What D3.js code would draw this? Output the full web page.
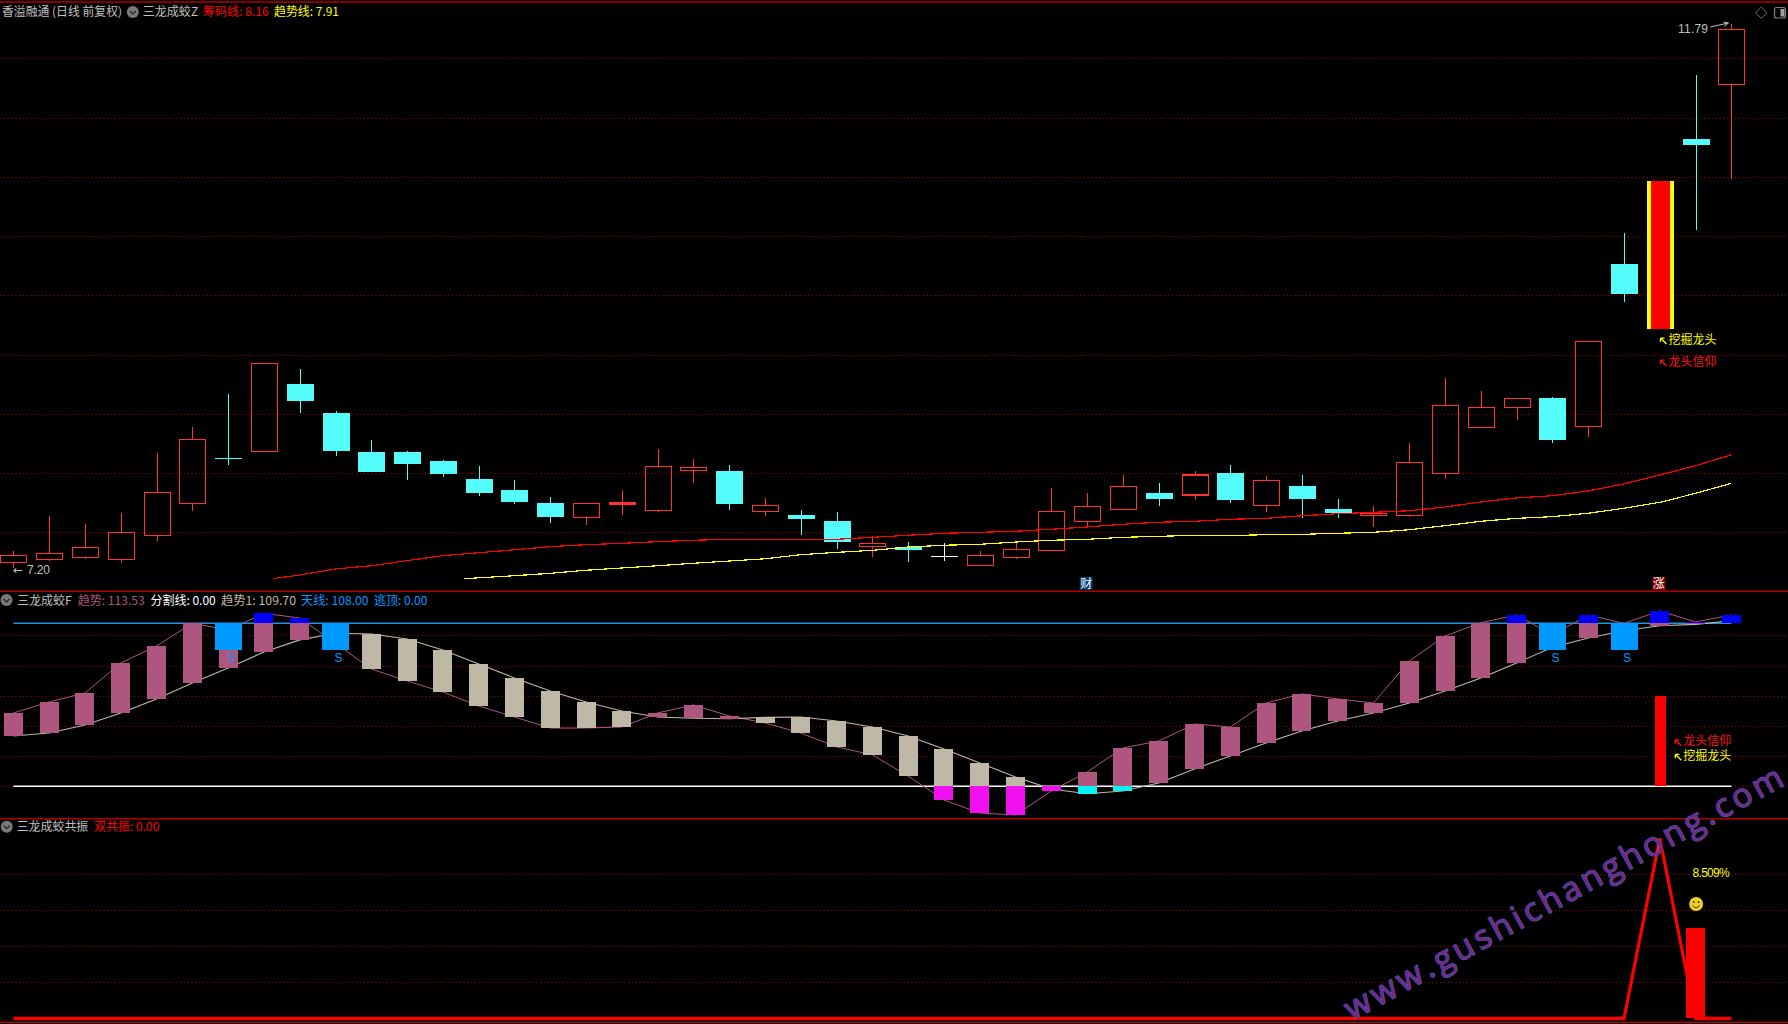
<!DOCTYPE html>
<html><head><meta charset="utf-8">
<style>html,body{margin:0;padding:0;background:#000;overflow:hidden}svg{display:block}text{font-family:"Noto Sans CJK SC","Noto Sans",sans-serif}</style>
<script src="https://cdnjs.cloudflare.com/ajax/libs/d3/7.8.5/d3.min.js"></script>
</head><body><svg id="c" width="1788" height="1024"></svg>
<script>
// main panel: one entry per trading day
const opens=[7.245,7.270,7.287,7.270,7.476,7.743,8.13,8.181,8.752,8.508,8.179,8.179,8.103,7.951,7.858,7.748,7.624,7.74,7.683,8.021,8.018,7.675,7.647,7.597,7.380,7.377,7.301,7.219,7.287,7.346,7.591,7.692,7.833,7.816,8.002,7.726,7.892,7.698,7.641,7.641,7.996,8.384,8.553,8.634,8.392,9.765,9.217,10.820,11.278];
const closes=[7.307,7.324,7.375,7.501,7.839,8.286,8.12,8.927,8.609,8.187,8.010,8.077,7.993,7.833,7.757,7.630,7.746,7.75,8.058,8.050,7.740,7.729,7.613,7.419,7.408,7.352,7.301,7.307,7.358,7.678,7.721,7.889,7.782,7.985,7.774,7.940,7.782,7.664,7.662,8.092,8.573,8.556,8.632,8.280,9.113,9.512,10.465,10.769,11.745];
const highs=[7.343,7.639,7.571,7.664,8.170,8.390,8.668,8.927,8.879,8.525,8.280,8.187,8.111,8.061,7.942,7.799,7.746,7.858,8.204,8.120,8.069,7.791,7.689,7.672,7.470,7.419,7.411,7.343,7.428,7.875,7.833,7.985,7.917,8.018,8.069,7.976,7.985,7.782,7.723,8.255,8.803,8.693,8.632,8.643,9.113,10.027,10.465,11.360,11.79];
const lows=[7.198,7.259,7.276,7.242,7.428,7.681,8.069,8.181,8.508,8.145,8.010,7.942,7.968,7.807,7.740,7.580,7.563,7.647,7.675,7.917,7.689,7.639,7.478,7.360,7.293,7.251,7.259,7.219,7.276,7.346,7.546,7.692,7.723,7.774,7.748,7.672,7.622,7.622,7.546,7.630,7.951,8.384,8.449,8.255,8.305,9.444,9.217,10.052,10.482];
const chipDays=[7.25,8,9,10,11,12,13,14,15,16,17,18,19,20,21,22,23,24,25,26,27,28,29,30,31,32,33,34,35,36,37,38,39,40,41,42,43,44,45,46,47,48];
const chipLine=[7.110,7.141,7.192,7.219,7.262,7.304,7.329,7.354,7.380,7.397,7.408,7.422,7.434,7.442,7.442,7.442,7.442,7.459,7.476,7.493,7.501,7.510,7.527,7.546,7.569,7.586,7.594,7.611,7.619,7.641,7.658,7.670,7.683,7.715,7.757,7.791,7.810,7.850,7.909,7.985,8.063,8.155];
const trendDays=[12.6,14,15,16,17,18,19,20,21,22,23,24,25,26,27,28,29,30,31,32,33,34,35,36,37,38,39,40,41,42,43,44,45,46,47,48];
const trendLine=[7.110,7.135,7.155,7.181,7.200,7.219,7.240,7.259,7.278,7.312,7.332,7.349,7.377,7.392,7.400,7.419,7.434,7.442,7.459,7.467,7.476,7.474,7.481,7.484,7.493,7.501,7.523,7.557,7.594,7.619,7.633,7.662,7.704,7.754,7.830,7.915];
const mainGrid=[7.5,8,8.5,9,9.5,10,10.5,11,11.5];
const dragonDay=46;
// middle panel
const trend=[48.6,55.9,61.8,81.7,93.0,108,103.6,114.6,111.5,94.7,77.7,69.8,62.5,53.2,45.9,38.6,38.6,39.3,48.6,53.9,46.6,42.0,35.3,26.1,20.8,6.8,-9.1,-17.7,-19.0,-3.1,9.5,25.4,30.0,41.3,39.3,55.2,61.2,57.9,55.2,83.0,99.6,108.4,113.5,100.3,113.5,108,116.2,108.9,113.53];
const trend1=[33.3,35.3,40.6,48.6,57.9,68.5,78.4,89.0,97.0,101.4,100.9,97.6,90.3,81.1,71.8,63.2,55.9,49.9,45.9,45.1,44.8,45.7,45.9,43.3,39.3,33.3,24.7,15.5,6.2,-1.8,-4.9,-3.1,2.2,11.5,20.1,28.7,36.7,43.3,48.6,55.2,63.2,71.8,81.7,92.1,98.3,103.1,106.4,107.3,109.70];
const skyLine=108, skyFloor=90;
const escapeDays=[6,9,43,45];
const midGrid=[100,80,60,40,20,0];
const beliefValue=60;
// bottom panel
const resonance=[0,0,0,0,0,0,0,0,0,0,0,0,0,0,0,0,0,0,0,0,0,0,0,0,0,0,0,0,0,0,0,0,0,0,0,0,0,0,0,0,0,0,0,0,0,0,100,0,0];
const lowGrid=[80,60,40,20];
const resonanceBarDay=47, resonanceBar=50;
// header labels
const headerMain=[["香溢融通 (日线 前复权)",2,120,"#c0c0c0"],["三龙成蛟Z",142.7,55.5,"#c0c0c0"],["筹码线: 8.16",202.8,66,"#ff0000"],["趋势线: 7.91",274,65,"#ffff00"]];
const headerMid=[["三龙成蛟F",17.2,54.4,"#c0c0c0"],["趋势: 113.53",77.7,67,"#ae5580"],["分割线: 0.00",150.4,65.4,"#ffffff"],["趋势1: 109.70",221,75,"#c0b8a6"],["天线: 108.00",301,67.5,"#0099ff"],["逃顶: 0.00",373.9,53.6,"#0099ff"]];
const headerLow=[["三龙成蛟共振",16.7,71.6,"#c0c0c0"],["双共振: 0.00",94,65.3,"#ff0000"]];

const RED="#ff3232",CYAN="#54fcfc",PINK="#ae5580",BEIGE="#c0b8a6",BLUE="#0000ff",SKY="#0099ff",MAG="#f010f0",AQUA="#00f5f5";
const svg=d3.select("#c");
const x=d3.scaleLinear().domain([0,48]).range([13.4,1731.4]);
const y=d3.scaleLinear().domain([7.2,11.79]).range([568,24]);
const ym=d3.scaleLinear().domain([0,108]).range([786.3,623.3]);
const yl=d3.scaleLinear().domain([0,100]).range([1018.3,838.3]);
const days=d3.range(opens.length);
const cx=i=>Math.round(x(i))+.5;
const BW=26.4,SW=19;

function grid(vals,sc){svg.append("g").selectAll("line").data(vals).join("line")
 .attr("x1",0).attr("x2",1786).attr("y1",d=>Math.round(sc(d))+.5).attr("y2",d=>Math.round(sc(d))+.5)
 .attr("stroke","#b40000").attr("stroke-dasharray","1 2.83");}
grid(mainGrid,y);grid(midGrid,ym);grid(lowGrid,yl);

// frame
svg.append("g").selectAll("line").data([2,591.3,818.7,1022.3]).join("line")
 .attr("x1",0).attr("x2",1788).attr("y1",d=>d).attr("y2",d=>d).attr("stroke","#b00000").attr("stroke-width",1.4);

// candles
const g=svg.append("g").attr("shape-rendering","crispEdges");
const col=i=>closes[i]>opens[i]?RED:closes[i]<opens[i]?CYAN:"#ffffff";
const candles=days.filter(i=>i!==dragonDay);
g.selectAll(".wu").data(candles).join("line").attr("x1",cx).attr("x2",cx)
 .attr("y1",i=>y(highs[i])).attr("y2",i=>y(Math.max(opens[i],closes[i])))
 .attr("stroke",col).attr("stroke-width",i=>closes[i]>opens[i]?1.3:1);
g.selectAll(".wd").data(candles).join("line").attr("x1",cx).attr("x2",cx)
 .attr("y1",i=>y(Math.min(opens[i],closes[i]))).attr("y2",i=>y(lows[i]))
 .attr("stroke",col).attr("stroke-width",i=>closes[i]>opens[i]?1.3:1);
g.selectAll(".b").data(candles).join("rect")
 .attr("x",i=>cx(i)-BW/2).attr("width",BW)
 .attr("y",i=>y(Math.max(opens[i],closes[i]))).attr("height",i=>Math.max(1,Math.abs(y(opens[i])-y(closes[i]))))
 .attr("fill",i=>closes[i]<opens[i]?CYAN:closes[i]===opens[i]?"#fff":"none")
 .attr("stroke",i=>closes[i]>opens[i]?RED:"none").attr("stroke-width",1.3);
// dragon day bar
g.append("rect").attr("x",cx(dragonDay)-13.5).attr("width",27).attr("y",y(closes[dragonDay])).attr("height",y(opens[dragonDay])-y(closes[dragonDay])).attr("fill","#ffff00");
g.append("rect").attr("x",cx(dragonDay)-9.4).attr("width",18.8).attr("y",y(closes[dragonDay])).attr("height",y(opens[dragonDay])-y(closes[dragonDay])).attr("fill","#ff0000");

// moving lines
const mkLine=(xs,ys,stroke,w)=>svg.append("path").attr("fill","none").attr("stroke",stroke).attr("stroke-width",w).attr("shape-rendering","crispEdges")
 .attr("d",d3.line().x((d,i)=>x(xs[i])).y(d=>y(d))(ys));
mkLine(trendDays,trendLine,"#ffff00",1.2);
mkLine(chipDays,chipLine,"#ff0000",1.2);

// middle panel
const mg=svg.append("g");
mg.append("line").attr("x1",x(0)).attr("x2",x(48)).attr("y1",ym(0)).attr("y2",ym(0)).attr("stroke","#fff").attr("stroke-width",1.5);
mg.append("line").attr("x1",x(0)).attr("x2",x(48)).attr("y1",ym(skyLine)).attr("y2",ym(skyLine)).attr("stroke","#2094e0").attr("stroke-width",1.5);
mg.append("path").attr("fill","none").attr("stroke",PINK).attr("stroke-width",1).attr("d",d3.line().x((d,i)=>x(i)).y(d=>ym(d))(trend));
mg.append("path").attr("fill","none").attr("stroke",BEIGE).attr("stroke-width",1.1).attr("d",d3.line().x((d,i)=>x(i)).y(d=>ym(d))(trend1));
const bars=mg.append("g").attr("shape-rendering","crispEdges");
const vbar=(sel,sc,f0,f1,w,fill)=>sel.attr("x",i=>x(i)-w/2).attr("width",w).attr("y",i=>sc(Math.max(f0(i),f1(i)))).attr("height",i=>Math.abs(sc(f0(i))-sc(f1(i)))).attr("fill",fill);
vbar(bars.selectAll(".v").data(days).join("rect"),ym,i=>trend[i],i=>trend1[i],SW,i=>trend[i]>=trend1[i]?PINK:BEIGE);
vbar(bars.selectAll(".t").data(days.filter(i=>trend[i]>skyLine)).join("rect"),ym,i=>trend[i],()=>skyLine,SW,BLUE);
vbar(bars.selectAll(".m").data(days.filter(i=>trend[i]<0&&trend[i]<trend1[i])).join("rect"),ym,i=>trend[i],()=>0,SW,MAG);
vbar(bars.selectAll(".a").data(days.filter(i=>trend1[i]<0&&trend1[i]<trend[i])).join("rect"),ym,i=>trend1[i],()=>0,SW,AQUA);
vbar(bars.selectAll(".s").data(escapeDays).join("rect"),ym,()=>skyLine,()=>skyFloor,27,SKY);
vbar(bars.selectAll(".r").data([dragonDay]).join("rect").attr("transform","translate(0.7,0)"),ym,()=>beliefValue,()=>0,11.2,"#ff0000");
mg.selectAll(".sl").data(escapeDays).join("text").text("S").attr("x",i=>x(i)+3).attr("y",ym(skyFloor)+11.5).attr("text-anchor","middle")
 .attr("font-size",12).attr("fill",SKY).style("font-family","'Liberation Sans'");

// bottom panel
svg.append("path").attr("fill","none").attr("stroke","#ff0000").attr("stroke-width",3.2).attr("stroke-linejoin","miter")
 .attr("d",d3.line().x((d,i)=>x(i)).y(d=>yl(d))(resonance));
vbar(svg.append("g").attr("shape-rendering","crispEdges").selectAll("rect").data([resonanceBarDay]).join("rect"),yl,()=>resonanceBar,()=>0,19,"#ff0000");

// watermark
svg.append("text").text("www.gushichanghong.com").attr("transform","translate(1352,1021) rotate(-28.6)")
 .attr("textLength",494).attr("font-size",33)
 .attr("fill","#76268c").attr("stroke","#4560b0").attr("stroke-width",1.2).attr("paint-order","stroke")
 .style("font-family","'Open Sans'");

// headers
function hdr(list,base){svg.append("g").selectAll("text").data(list).join("text").text(d=>d[0]).attr("x",d=>d[1]).attr("y",base)
 .attr("textLength",d=>d[2]).attr("lengthAdjust","spacingAndGlyphs").attr("font-size",12).attr("fill",d=>d[3]);}
hdr(headerMain,16);hdr(headerMid,604.5);hdr(headerLow,831);
function icon(cxp,cyp){svg.append("circle").attr("cx",cxp).attr("cy",cyp).attr("r",6).attr("fill","#7a7a7a");
 svg.append("path").attr("d",`M${cxp-3},${cyp-1}L${cxp},${cyp+2}L${cxp+3},${cyp-1}`).attr("fill","none").attr("stroke","#222").attr("stroke-width",1.2);}
icon(132.8,12);icon(6.5,600);icon(6.7,826.7);

// annotations
const tx=(s,px,py,fill,size,anchor)=>svg.append("text").text(s).attr("x",px).attr("y",py).attr("fill",fill).attr("font-size",size||12).attr("text-anchor",anchor||"start");
function callout(s,px,py,fill){
 svg.append("path").attr("d",`M${px+6},${py+5}L${px},${py-1}M${px},${py-1}l0,4M${px},${py-1}l4,0`).attr("stroke",fill).attr("fill","none").attr("stroke-width",1.3);
 tx(s,px+8,py+4.5,fill,12).attr("textLength",48);
}
callout("挖掘龙头",x(dragonDay)+0.7,y(closes[dragonDay])+158,"#ffff00");
callout("龙头信仰",x(dragonDay)+0.7,y(closes[dragonDay])+180,"#ff1010");
callout("龙头信仰",x(dragonDay)+15.5,ym(0)-44.5-1,"#ff1010");
callout("挖掘龙头",x(dragonDay)+15.5,ym(0)-30-1,"#ffff00");

const low=tx("",13.4,y(7.2)+5.5,"#c0c0c0",12).style("font-family","'Liberation Sans'");
low.append("tspan").text("←").attr("x",13).style("font-family","'DejaVu Sans'");
low.append("tspan").text("7.20").attr("x",27).attr("textLength",23);
tx("11.79",1678,y(11.79)+8.5,"#c0c0c0",12).attr("textLength",30).style("font-family","'Liberation Sans'");
svg.append("path").attr("d",`M${x(48)-21},${y(11.79)+3}L${x(48)-3},${y(11.79)-1}m-5,-1l5,1l-4,3`).attr("fill","none").attr("stroke","#c0c0c0").attr("stroke-width",1);

const badge=(s,day,bg)=>{const bx=x(day)-7.5;svg.append("rect").attr("x",bx).attr("y",577).attr("width",13).attr("height",13).attr("fill",bg);
 tx(s,bx+6.5,588,"#fff",12,"middle");};
badge("财",30,"#003a6a");badge("涨",46,"#800000");

tx("8.509%",x(47)-3,yl(80.9)+4.5,"#ffff00",12).attr("textLength",37).style("font-family","'Liberation Sans'");
const sx=x(47)+.5,sy=yl(63.5);
svg.append("circle").attr("cx",sx).attr("cy",sy).attr("r",7).attr("fill","#f0d020");
svg.append("circle").attr("cx",sx-2.4).attr("cy",sy-2).attr("r",.9).attr("fill","#402000");
svg.append("circle").attr("cx",sx+2.4).attr("cy",sy-2).attr("r",.9).attr("fill","#402000");
svg.append("path").attr("d",`M${sx-3.5},${sy+1.5}Q${sx},${sy+6} ${sx+3.5},${sy+1.5}`).attr("fill","none").attr("stroke","#402000").attr("stroke-width",1);

// window icons
svg.append("path").attr("d","M1761.3,7L1767,12.7L1761.3,18.4L1755.6,12.7Z").attr("fill","none").attr("stroke","#707070");
svg.append("rect").attr("x",1774.5).attr("y",7.5).attr("width",11).attr("height",10.5).attr("rx",2).attr("fill","none").attr("stroke","#808080").attr("stroke-width",1.2);
svg.append("rect").attr("x",1780.5).attr("y",9).attr("width",4).attr("height",7.5).attr("fill","#a0a0a0");
</script></body></html>
